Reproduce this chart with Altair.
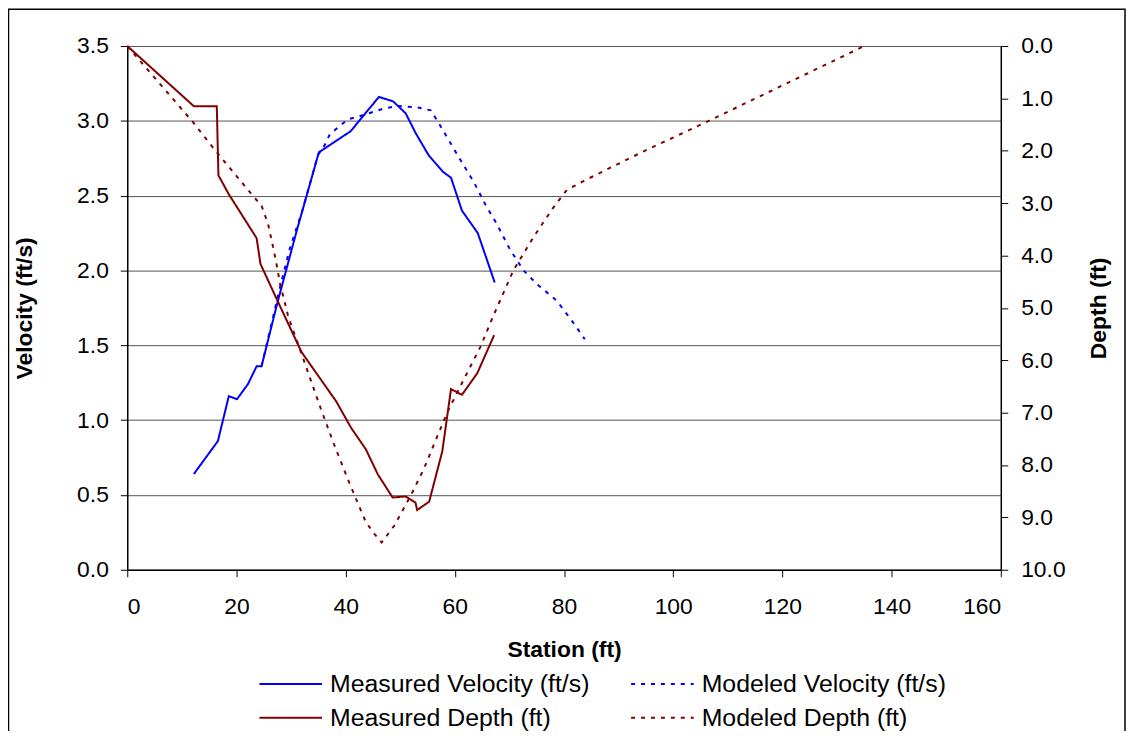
import altair as alt
import pandas as pd

# ---- data ----
series_names = ["Measured Velocity (ft/s)", "Measured Depth (ft)",
                "Modeled Velocity (ft/s)", "Modeled Depth (ft)"]

meas_vel_x = [12.2, 16.6, 18.6, 20.1, 22.1, 23.7, 24.6, 27.4, 31.0, 35.1, 40.9, 46.1,
              48.7, 51.0, 52.8, 55.2, 57.8, 59.3, 61.3, 64.2, 67.3]
meas_vel_y = [0.64, 0.86, 1.16, 1.14, 1.24, 1.36, 1.36, 1.77, 2.26, 2.79, 2.93, 3.16,
              3.13, 3.05, 2.92, 2.77, 2.66, 2.62, 2.40, 2.25, 1.92]

mod_vel_x = [24.6, 28.0, 29.8, 31.9, 33.7, 34.9, 36.2, 37.1, 40.4, 42.5, 46.8, 49.5,
             53.1, 55.6, 56.8, 58.9, 61.0, 63.5, 65.6, 67.7, 70.1, 72.6, 75.0, 78.3,
             79.8, 82.3, 83.8]
mod_vel_y = [1.36, 1.89, 2.15, 2.38, 2.61, 2.77, 2.84, 2.91, 3.01, 3.03, 3.08, 3.10,
             3.09, 3.07, 3.00, 2.87, 2.74, 2.59, 2.44, 2.31, 2.14, 2.00, 1.91, 1.81,
             1.745, 1.62, 1.54]

meas_dep_x = [0.0, 12.2, 16.4, 16.7, 18.6, 23.7, 24.4, 27.5, 31.9, 38.3, 41.0, 43.7,
              45.9, 48.6, 51.0, 52.8, 53.1, 55.3, 57.7, 59.3, 61.3, 64.1, 67.2]
meas_dep_y = [0.0, 1.15, 1.15, 2.47, 2.83, 3.67, 4.16, 4.86, 5.84, 6.79, 7.29, 7.70,
              8.18, 8.62, 8.60, 8.72, 8.86, 8.70, 7.74, 6.55, 6.66, 6.25, 5.52]

mod_dep_x = [0.0, 12.0, 16.0, 23.1, 24.6, 25.8, 27.1, 28.0, 29.5, 32.0, 35.5, 38.0,
             40.4, 42.2, 43.7, 45.3, 46.6, 48.9, 51.9, 54.3, 56.8, 58.6, 60.7, 64.7,
             67.1, 70.7, 74.4, 78.0, 80.5, 84.1, 94.4, 106.5, 135.0]
mod_dep_y = [0.0, 1.45, 1.98, 2.87, 3.05, 3.40, 4.03, 4.54, 5.17, 5.90, 6.94, 7.64,
             8.27, 8.72, 9.09, 9.32, 9.48, 9.16, 8.59, 8.08, 7.45, 7.00, 6.56, 5.74,
             5.14, 4.29, 3.65, 3.09, 2.75, 2.55, 2.02, 1.43, 0.0]

velocity_ticks = [0.0, 0.5, 1.0, 1.5, 2.0, 2.5, 3.0, 3.5]
depth_ticks = [0, 1, 2, 3, 4, 5, 6, 7, 8, 9, 10]
station_ticks = [0, 20, 40, 60, 80, 100, 120, 140, 160]


def frame(xs, ys, name, col):
    return pd.DataFrame({"x": xs, col: ys, "series": name, "i": range(len(xs))})


vel = pd.concat([frame(meas_vel_x, meas_vel_y, "Measured Velocity (ft/s)", "v"),
                 frame(mod_vel_x, mod_vel_y, "Modeled Velocity (ft/s)", "v")])
dep = pd.concat([frame(meas_dep_x, meas_dep_y, "Measured Depth (ft)", "d"),
                 frame(mod_dep_x, mod_dep_y, "Modeled Depth (ft)", "d")])

FONT = "Liberation Sans"
W, H = 879, 527

color_scale = alt.Scale(domain=series_names,
                        range=["#0000FF", "#800000", "#0000FF", "#800000"])
dash_scale = alt.Scale(domain=series_names,
                       range=[[1, 0], [1, 0], [4, 6], [4, 6]])

legend = alt.Legend(title=None, orient="none", legendX=132, legendY=627,
                    columns=2, symbolType="stroke", symbolSize=3969,
                    symbolStrokeWidth=2, labelFont=FONT, labelFontSize=25,
                    labelColor="black", labelOffset=7, labelLimit=500,
                    columnPadding=40, rowPadding=4, clipHeight=30, symbolLimit=10)

x_enc = alt.X("x:Q", scale=alt.Scale(domain=[0, 160], nice=False),
              axis=alt.Axis(title="Station (ft)", values=station_ticks, grid=False,
                            labelPadding=19, titlePadding=20, tickSize=7))

vel_layer = alt.Chart(vel).mark_line(strokeWidth=2).encode(
    x=x_enc,
    y=alt.Y("v:Q", scale=alt.Scale(domain=[0, 3.5], nice=False),
            axis=alt.Axis(title="Velocity (ft/s)", values=velocity_ticks, format=".1f",
                          grid=True, gridColor="#555555", gridWidth=1, tickSize=7,
                          labelPadding=12, titlePadding=40)),
    color=alt.Color("series:N", scale=color_scale, legend=legend),
    strokeDash=alt.StrokeDash("series:N", scale=dash_scale, legend=legend),
    order="i:Q",
)

dep_layer = alt.Chart(dep).mark_line(strokeWidth=2).encode(
    x=x_enc,
    y=alt.Y("d:Q", scale=alt.Scale(domain=[0, 10], reverse=True, nice=False),
            axis=alt.Axis(title="Depth (ft)", orient="right", values=depth_ticks,
                          format=".1f", grid=False, tickSize=7, labelPadding=13,
                          titlePadding=46, titleAngle=270)),
    color=alt.Color("series:N", scale=color_scale, legend=legend),
    strokeDash=alt.StrokeDash("series:N", scale=dash_scale, legend=legend),
    order="i:Q",
)

border = alt.Chart(pd.DataFrame({"a": [0]})).mark_rect(
    fillOpacity=0, stroke="black", strokeWidth=1.5).encode(
    x=alt.value(-119.5), x2=alt.value(W + 125), y=alt.value(-37), y2=alt.value(H + 200))

chart = alt.layer(vel_layer, dep_layer, border).resolve_scale(
    y="independent"
).properties(
    width=W, height=H,
    autosize=alt.AutoSizeParams(type="none"),
    padding={"left": 120, "top": 36, "right": 127, "bottom": 160},
).configure_view(strokeWidth=0).configure_axis(
    labelFont=FONT, titleFont=FONT, labelFontSize=23, titleFontSize=23,
    titleFontWeight="bold", labelColor="black", titleColor="black",
    domainColor="black", tickColor="black", domainWidth=1.5,
)

chart.save("out.html", embed_options={"renderer": "svg", "actions": False})
